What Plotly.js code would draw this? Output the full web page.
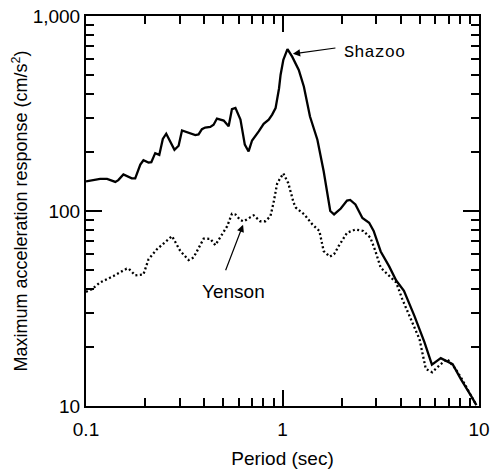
<!DOCTYPE html>
<html>
<head>
<meta charset="utf-8">
<script src="https://cdn.plot.ly/plotly-3.0.1.min.js"></script>
<style>html,body{margin:0;padding:0;background:#fff;}#chart{width:491px;height:470px;}</style>
</head>
<body>
<div id="chart"></div>
<script>
// Period (sec) and maximum acceleration response (cm/s^2)
const shazooPeriod = [0.1,0.118,0.128,0.141,0.146,0.155,0.171,0.178,0.189,0.196,0.208,0.215,0.225,0.236,0.246,0.256,0.282,0.296,0.308,0.36,0.374,0.389,0.404,0.429,0.446,0.464,0.502,0.532,0.553,0.576,0.611,0.643,0.672,0.70,0.757,0.802,0.851,0.886,0.922,0.96,0.978,1.01,1.06,1.12,1.21,1.285,1.38,1.505,1.62,1.75,1.83,1.98,2.13,2.21,2.35,2.55,2.76,2.91,3.16,3.49,3.79,4.15,4.69,5.28,5.76,6.39,7.34,8.1,9.1,9.7];
const shazooAcc = [142,146,146,141,144,154,147,147,173,182,177,178,198,194,234,249,206,216,259,245,247,263,268,270,277,298,291,272,333,338,294,219,202,230,256,280,294,312,337,425,500,596,676,619,529,434,305,232,160,100,96,103,113,114,108,92,87,79,62,52,44,39,29,21.2,16.3,17.6,16.4,13.7,11.3,10.1];

const yensonPeriod = [0.1,0.107,0.118,0.138,0.161,0.165,0.178,0.196,0.208,0.229,0.274,0.302,0.333,0.353,0.397,0.429,0.455,0.493,0.523,0.553,0.576,0.611,0.634,0.714,0.77,0.818,0.868,0.90,0.94,0.978,1.01,1.07,1.14,1.17,1.29,1.42,1.54,1.62,1.74,1.83,1.93,2.13,2.35,2.58,2.8,2.97,3.16,3.42,3.79,4.07,4.49,4.98,5.36,5.78,6.39,6.9,7.6,8.2,9.1,9.6];
const yensonAcc = [38.5,39.7,43,46.4,50.6,50.6,46.8,47.3,56.5,63.5,74.3,62.3,56,57.8,72.1,72,66.8,75.8,83.6,96.8,96,89.7,88.6,95,88.6,88.6,94,110,139,148,156,139,110,104,96,85.3,79,62.3,58.3,60,66,77.3,80.4,79,73,62.3,51.2,47.4,43,35.3,27.9,22,15.5,14.9,16.4,17.4,15.5,13.7,11.3,10.3];

const xTickVals = [0.1,1,10];
const xTickText = ['0.1','1','10'];
const yTickVals = [10,100,1000];
const yTickText = ['10','100','1,000'];
const xMinorVals = [0.2,0.3,0.4,0.5,0.6,0.7,0.8,0.9,2,3,4,5,6,7,8,9];
const yMinorVals = [20,30,40,50,60,70,80,90,200,300,400,500,600,700,800,900];

// annotation anchors (period, acceleration)
const shazooLabel = {text:'Shazoo', tipT:1.13, tipA:640, textT:2.95, textA:650};
const yensonLabel = {text:'Yenson', tipT:0.63, tipA:85, textT:0.566, textA:38.5};

const sans = 'Liberation Sans, Arial, sans-serif';

const traces = [
  {x: shazooPeriod, y: shazooAcc, type:'scatter', mode:'lines', name:'Shazoo',
   line:{color:'#000', width:2.3}},
  {x: yensonPeriod, y: yensonAcc, type:'scatter', mode:'lines', name:'Yenson',
   line:{color:'#000', width:2.3, dash:'2px,2.5px'}}
];

const axisCommon = {
  type:'log', showgrid:false, zeroline:false,
  showline:true, linecolor:'#000', linewidth:2, mirror:'ticks',
  ticks:'inside', ticklen:16, tickwidth:2, tickcolor:'#000',
  tickmode:'array',
  tickfont:{family:sans, size:19, color:'#000'}
};

const layout = {
  width:491, height:470,
  margin:{l:86, r:12, t:16, b:64},
  paper_bgcolor:'#fff', plot_bgcolor:'#fff',
  showlegend:false,
  xaxis: Object.assign({}, axisCommon, {
    range:[-1,1], tickvals:xTickVals, ticktext:xTickText, ticklabelstandoff:5,
    minor:{tickvals:xMinorVals, ticks:'inside', ticklen:8, tickwidth:2, tickcolor:'#000'},
    title:{text:'Period (sec)', font:{family:sans, size:19, color:'#000'}, standoff:13}
  }),
  yaxis: Object.assign({}, axisCommon, {
    range:[1,3], tickvals:yTickVals, ticktext:yTickText,
    minor:{tickvals:yMinorVals, ticks:'inside', ticklen:8, tickwidth:2, tickcolor:'#000'},
    title:{text:'Maximum acceleration response (cm/s<sup>2</sup>)', font:{family:sans, size:18, color:'#000'}, standoff:0}
  }),
  annotations:[
    {x:Math.log10(shazooLabel.tipT), y:Math.log10(shazooLabel.tipA), xref:'x', yref:'y',
     text:'', showarrow:true, arrowhead:2, arrowsize:1.2, arrowwidth:1.2, arrowcolor:'#000',
     ax:44, ay:-6},
    {x:Math.log10(shazooLabel.textT), y:Math.log10(shazooLabel.textA), xref:'x', yref:'y',
     text:shazooLabel.text, showarrow:false,
     font:{family:'Liberation Mono, Courier New, monospace', size:17, color:'#000'}},
    {x:Math.log10(yensonLabel.tipT), y:Math.log10(yensonLabel.tipA), xref:'x', yref:'y',
     text:'', showarrow:true, arrowhead:2, arrowsize:1.2, arrowwidth:1.2, arrowcolor:'#000',
     ax:-18, ay:47},
    {x:Math.log10(yensonLabel.textT), y:Math.log10(yensonLabel.textA), xref:'x', yref:'y',
     text:yensonLabel.text, showarrow:false,
     font:{family:sans, size:19, color:'#000'}}
  ]
};

Plotly.newPlot('chart', traces, layout, {displayModeBar:false, staticPlot:true});
</script>
</body>
</html>
